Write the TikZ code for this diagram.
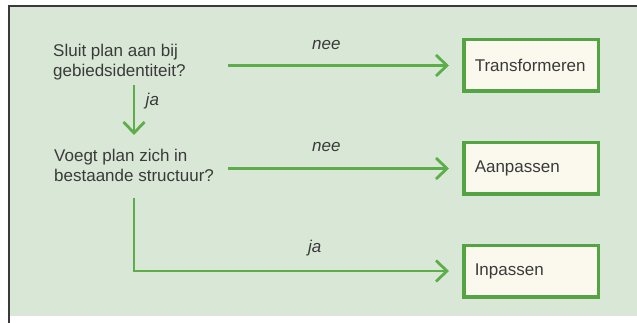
\documentclass[tikz,border=0pt]{standalone}
\usepackage{fontspec}
\setmainfont{Liberation Sans}
\usetikzlibrary{arrows.meta, positioning}
\definecolor{panelgreen}{HTML}{D9E8D6}
\definecolor{linegreen}{HTML}{5DAE4B}
\definecolor{boxgreen}{HTML}{55A443}
\definecolor{boxfill}{HTML}{FBF9EE}
\definecolor{textgray}{HTML}{3A3A3A}

\tikzset{
  vraag/.style={align=left, anchor=west, inner sep=0pt, text=textgray,
    font=\fontsize{17}{20}\selectfont},
  uitkomst/.style={draw=boxgreen, line width=3.5pt, fill=boxfill,
    text width=112.5pt, inner xsep=11pt, minimum height=51.5pt, align=left,
    text=textgray, font=\fontsize{17}{20}\selectfont},
  pijl/.style={draw=linegreen, line width=2.8pt,
    -{Straight Barb[length=11pt,width=21pt,line width=2.8pt]}},
  antw/.style={text=textgray, anchor=base, font=\fontsize{17}{20}\itshape}
}

\begin{document}
\begin{tikzpicture}[x=1pt, y=-1pt]
\useasboundingbox (0,0) rectangle (637,323);
% achtergrond
\fill[panelgreen] (9,6) rectangle (637,316);
\draw[textgray, line width=1.2pt] (9,323) -- (9,6) -- (637,6);

\node[vraag] (q1) at (53,62.3) {Sluit plan aan bij\\gebiedsidentiteit?};
\node[vraag] (q2) at (54,165.2) {Voegt plan zich in\\bestaande structuur?};

\node[uitkomst] (b1) at (531,65.5) {Transformeren};
\node[uitkomst] (b2) at (531,168.5) {Aanpassen};
\node[uitkomst] (b3) at (531,271) {Inpassen};

\coordinate (s1) at (228,0);
\coordinate (d1) at (134,85);
\coordinate (d2) at (134,135);
\coordinate (l1) at (134,198);

\draw[pijl] (s1 |- b1.west) -- node[antw, pos=0.445, yshift=16pt] {nee} ([xshift=-13pt]b1.west);
\draw[pijl] (d1) -- node[antw, pos=0.42, anchor=base west, xshift=7pt] {ja} (d2);
\draw[pijl] (s1 |- b2.west) -- node[antw, pos=0.445, yshift=17pt] {nee} ([xshift=-13pt]b2.west);
\draw[pijl] (l1) |- node[antw, pos=0.787, yshift=19pt] {ja} ([xshift=-13pt]b3.west);
\end{tikzpicture}
\end{document}
